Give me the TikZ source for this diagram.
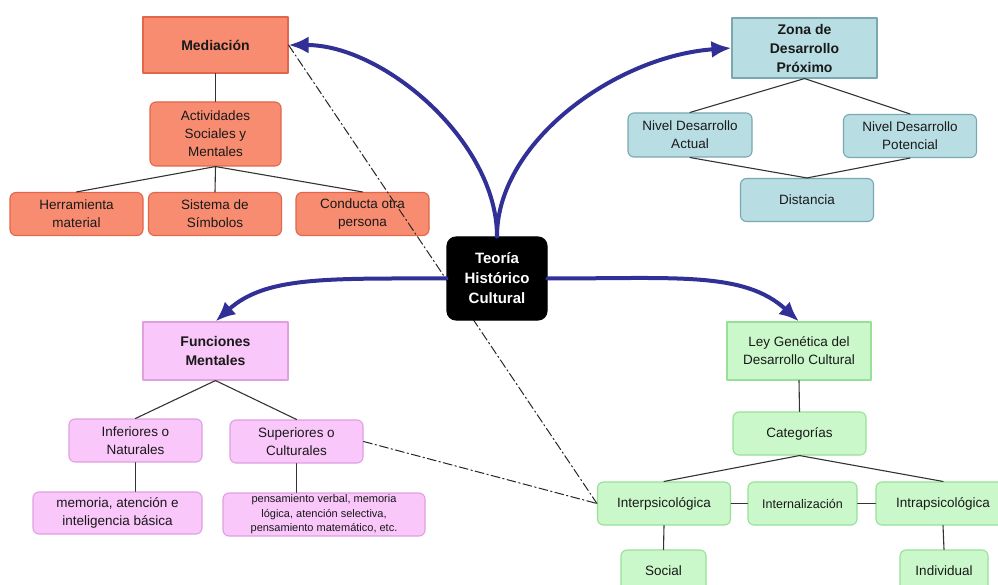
\documentclass[tikz,border=0pt]{standalone}
\usepackage{fontspec}
\setmainfont{Liberation Sans}
\usepackage{xcolor}
\usetikzlibrary{arrows.meta}

\definecolor{salmon}{RGB}{248,140,112}
\definecolor{salmonline}{RGB}{226,102,74}
\definecolor{aqua}{RGB}{184,222,228}
\definecolor{aqualine}{RGB}{122,168,176}
\definecolor{rosa}{RGB}{249,199,249}
\definecolor{rosaline}{RGB}{224,160,224}
\definecolor{verde}{RGB}{202,248,202}
\definecolor{verdeline}{RGB}{152,224,152}
\definecolor{azul}{RGB}{48,48,150}

\begin{document}
\begin{tikzpicture}[x=1pt,y=-1pt,line cap=round,line join=round,
    caja/.style={draw,line width=1.1pt,align=center,inner sep=0pt,text=black!90,
        font=\fontsize{13.5}{18}\selectfont},
    redonda/.style={caja,rounded corners=6pt},
    negrita/.style={font=\fontsize{14}{19}\selectfont\bfseries},
    naranja/.style={fill=salmon,draw=salmonline},
    celeste/.style={fill=aqua,draw=aqualine},
    rosado/.style={fill=rosa,draw=rosaline},
    verdoso/.style={fill=verde,draw=verdeline},
    chica/.style={minimum width=133pt,minimum height=43pt},
    linea/.style={line width=1.1pt,draw=black!80},
    punteada/.style={line width=1pt,draw=black!85,dash pattern=on 9pt off 3pt on 1.5pt off 3pt},
    flecha/.style={line width=4pt,draw=azul,-{Latex[length=20pt,width=17pt]}}]
    \path[use as bounding box,fill=white] (0,0) rectangle (998,585);
    % Mediacion
    \node[caja,naranja,negrita,minimum width=145pt,minimum height=56pt] (med) at (215.5,45) {Mediación};
    \node[redonda,naranja,minimum width=131pt,minimum height=64pt] (act) at (215.5,134) {Actividades\\Sociales y\\Mentales};
    \node[redonda,naranja,chica] (herr) at (76.5,214) {Herramienta\\material};
    \node[redonda,naranja,chica] (sist) at (215,214) {Sistema de\\Símbolos};
    \node[redonda,naranja,chica] (cond) at (362.5,214) {Conducta otra\\persona};
    % Zona de desarrollo proximo
    \node[caja,celeste,negrita,minimum width=145pt,minimum height=60pt] (zdp) at (804.5,48) {Zona de\\Desarrollo\\Próximo};
    \node[redonda,celeste,minimum width=124pt,minimum height=44pt] (nact) at (690,135) {Nivel Desarrollo\\Actual};
    \node[redonda,celeste,chica] (npot) at (910,136) {Nivel Desarrollo\\Potencial};
    \node[redonda,celeste,chica] (dist) at (807,200) {Distancia};
    % Funciones mentales
    \node[caja,rosado,negrita,minimum width=145pt,minimum height=58pt] (fun) at (215.5,351) {Funciones\\Mentales};
    \node[redonda,rosado,chica] (inf) at (135.5,440.5) {Inferiores o\\Naturales};
    \node[redonda,rosado,chica] (sup) at (296.5,441.5) {Superiores o\\Culturales};
    \node[redonda,rosado,minimum width=169pt,minimum height=42pt] (mem) at (117.5,513) {memoria, atención e\\inteligencia básica};
    \node[redonda,rosado,minimum width=202pt,minimum height=43pt,font=\fontsize{11}{14.5}\selectfont] (pen) at (324,514.5) {pensamiento verbal, memoria\\lógica, atención selectiva,\\pensamiento matemático, etc.};
    % Ley genetica
    \node[caja,verdoso,minimum width=144pt,minimum height=58pt] (ley) at (799,351) {Ley Genética del\\Desarrollo Cultural};
    \node[redonda,verdoso,chica] (cat) at (799.5,433.5) {Categorías};
    \node[redonda,verdoso,chica] (inter) at (664,503.5) {Interpsicológica};
    \node[redonda,verdoso,minimum width=109pt,minimum height=43pt,font=\fontsize{12.5}{16}\selectfont] (intern) at (802.5,503.5) {Internalización};
    \node[redonda,verdoso,minimum width=134pt,minimum height=43pt] (intra) at (943,503.5) {Intrapsicológica};
    \node[redonda,verdoso,minimum width=85pt,minimum height=42pt] (soc) at (663.5,571) {Social};
    \node[redonda,verdoso,minimum width=88pt,minimum height=42pt] (ind) at (944,571) {Individual};

    \draw[linea] (med.south) -- (act.north);
    \draw[linea] (act.south) -- (herr.north);
    \draw[linea] (act.south) -- (sist.north);
    \draw[linea] (act.south) -- (cond.north);
    \draw[linea] (zdp.south) -- (nact.north);
    \draw[linea] (zdp.south) -- (npot.north);
    \draw[linea] (nact.south) -- (dist.north);
    \draw[linea] (npot.south) -- (dist.north);
    \draw[linea] (fun.south) -- (inf.north);
    \draw[linea] (fun.south) -- (sup.north);
    \draw[linea] (inf.south) -- (inf.south|-mem.north);
    \draw[linea] (sup.south) -- (sup.south|-pen.north);
    \draw[linea] (ley.south) -- (cat.north);
    \draw[linea] (cat.south) -- (inter.north);
    \draw[linea] (cat.south) -- (intra.north);
    \draw[linea] (inter.east) -- (intern.west);
    \draw[linea] (intern.east) -- (intra.west);
    \draw[linea] (inter.south) -- (soc.north);
    \draw[linea] (intra.south) -- (ind.north);

    \draw[punteada] (med.east) -- (inter.west);
    \draw[punteada] (sup.east) -- (inter.west);

    % centro
    \node[redonda,fill=black,draw=black,text=white,rounded corners=9pt,minimum width=100pt,minimum height=83pt,
        font=\fontsize{15}{20}\selectfont\bfseries] (teo) at (497,278.5) {Teoría\\Histórico\\Cultural};

    \draw[flecha] (teo.north) .. controls +(0,-95) and +(95,0) .. (med.east);
    \draw[flecha] (teo.north) .. controls +(0,-95) and +(-115,8) .. (zdp.west);
    \draw[flecha] (teo.west) .. controls +(-120,0) and +(50,-45) .. (fun.north);
    \draw[flecha] (teo.east) .. controls +(130,0) and +(-55,-50) .. (ley.north);
\end{tikzpicture}
\end{document}
